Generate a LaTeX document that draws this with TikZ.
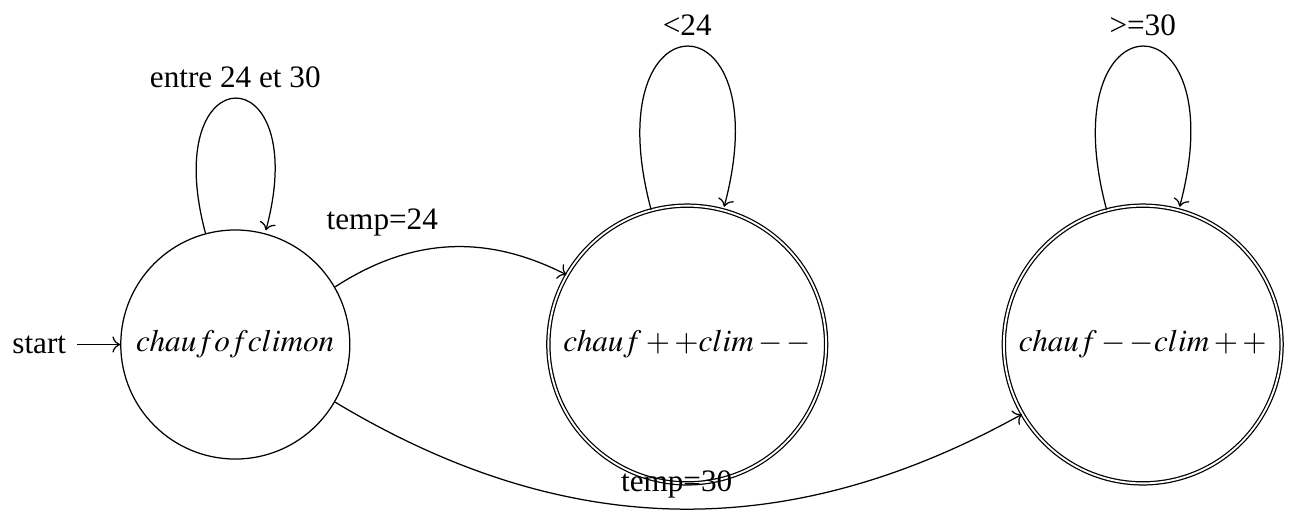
\documentclass[tikz,border=0pt]{standalone}
\usepackage{mathptmx}
\usepackage{fontspec}
\setmainfont{Liberation Serif}
\usetikzlibrary{automata,positioning,arrows.meta}

\begin{document}
\begin{tikzpicture}[->,
		every state/.style={draw, circle, minimum size=73.4pt, inner sep=0pt},
		accepting/.style={double, double distance=0.6pt, minimum size=89pt}]
	\useasboundingbox (0,0) rectangle (14.54,5.76);
	\node[state, initial, initial text=start] (q0) at (2.65,1.88) {$chaufofclimon$};
	\node[state, accepting] (q1) at (7.74,1.88) {$chauf++clim--$};
	\node[state, accepting] (q2) at (12.87,1.88) {$chauf--clim++$};
	\path (q0) edge[bend left] node[above left] {temp=24} (q1)
	      (q0) edge[bend right] node[above] {temp=30} (q2);
	\foreach \q/\lab in {q0/entre 24 et 30, q1/<24, q2/>=30}
		\path (\q) edge[loop above] node[above] {\lab} ();
\end{tikzpicture}
\end{document}
